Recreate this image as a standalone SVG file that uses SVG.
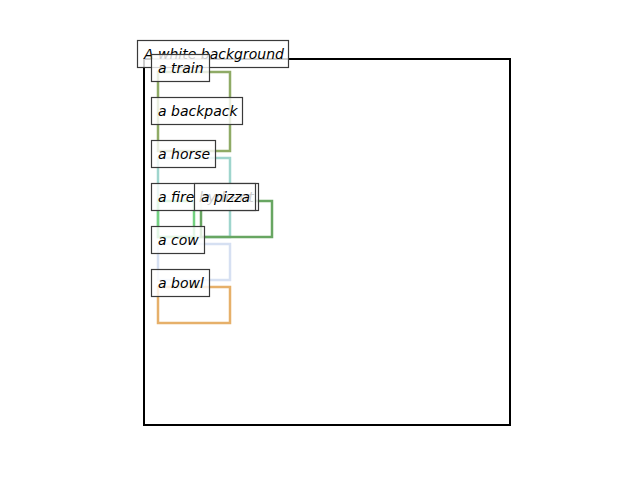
<svg xmlns="http://www.w3.org/2000/svg" width="640" height="480" viewBox="0 0 640 480">
  <style>
    .box { fill: none; stroke-width: 2.5; }
    .tag rect { fill: #ffffff; fill-opacity: 0.8; stroke: #3a3a3a; stroke-width: 1.2; }
    .tag text { font-family: "DejaVu Sans", sans-serif; font-style: italic; font-size: 14px; fill: #000000; }
  </style>
  <rect x="0" y="0" width="640" height="480" fill="#ffffff"/>
  <!-- axes frame -->
  <rect x="144" y="59" width="366" height="366" fill="#ffffff" stroke="#000000" stroke-width="2"/>

  <!-- region outlines -->
  <g id="connectors">
    <rect class="box" x="158" y="72" width="72" height="79" stroke="#8fab66"/>
    <rect class="box" x="158" y="158" width="72" height="79" stroke="#9fd5cd"/>
    <rect class="box" x="158" y="201" width="36" height="36" stroke="#74d181"/>
    <rect class="box" x="201" y="201" width="71" height="36" stroke="#68a662"/>
    <rect class="box" x="158" y="244" width="72" height="36" stroke="#d6e0f2"/>
    <rect class="box" x="158" y="287" width="72" height="36" stroke="#e6b06a"/>
  </g>

  <g id="title" class="tag">
    <rect x="137.5" y="40.5" width="151" height="27"/>
    <text x="144" y="59">A white background</text>
  </g>
  <g id="train" class="tag">
    <rect x="151.5" y="54.5" width="58" height="27"/>
    <text x="158" y="73">a train</text>
  </g>
  <g id="backpack" class="tag">
    <rect x="151.5" y="97.5" width="91" height="27"/>
    <text x="158" y="116">a backpack</text>
  </g>
  <g id="horse" class="tag">
    <rect x="151.5" y="140.5" width="64" height="27"/>
    <text x="158" y="159">a horse</text>
  </g>
  <g id="fire-hydrant" class="tag">
    <rect x="151.5" y="183.5" width="107" height="27"/>
    <text x="158" y="202">a fire hydrant</text>
  </g>
  <g id="pizza" class="tag">
    <rect x="194.5" y="183.5" width="61" height="27"/>
    <text x="201" y="202">a pizza</text>
  </g>
  <g id="cow" class="tag">
    <rect x="151.5" y="226.5" width="53" height="27"/>
    <text x="158" y="245">a cow</text>
  </g>
  <g id="bowl" class="tag">
    <rect x="151.5" y="269.5" width="58" height="27"/>
    <text x="158" y="288">a bowl</text>
  </g>
</svg>
